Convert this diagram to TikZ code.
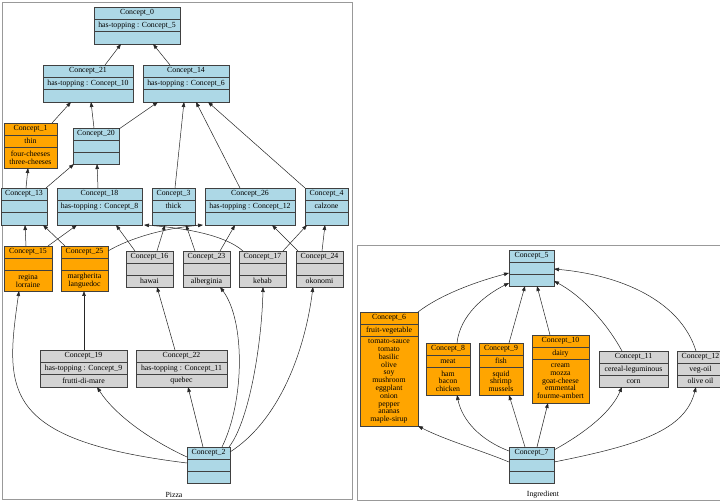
\documentclass[tikz,border=0pt]{standalone}
\usepackage{fontspec}
\setmainfont{Liberation Serif}
\usetikzlibrary{calc,arrows.meta}
\definecolor{lblue}{HTML}{ADD8E6}
\definecolor{corange}{HTML}{FFA500}
\definecolor{lgray}{HTML}{D3D3D3}
\tikzset{
  cbox/.style={rectangle, draw=black!75, line width=0.6pt, anchor=north west, inner sep=0pt, outer sep=0pt},
  cline/.style={draw=black!75, line width=0.6pt},
  ctext/.style={font=\fontsize{7.8}{7.8}\selectfont, inner sep=0pt, text height=5.3pt, text depth=1.7pt},
  btext/.style={font=\fontsize{7.8}{7.8}\selectfont, inner sep=0pt, align=center},
  arr/.style={draw=black!85, line width=0.5pt, -{Triangle[length=5pt,width=3.6pt]}},
  cluster/.style={draw=black!40, line width=0.8pt},
  clabel/.style={font=\fontsize{7.8}{7.8}\selectfont, inner sep=0pt}
}
\newcommand{\conceptbox}[9]{%
  \node[cbox, fill=#2, minimum width=#5pt, minimum height=#6pt] (#1) at (#3,-#4) {};
  \draw[cline] ([yshift=-12.3pt]#1.north west) -- ([yshift=-12.3pt]#1.north east);
  \draw[cline] ([yshift=-24.6pt]#1.north west) -- ([yshift=-24.6pt]#1.north east);
  \node[ctext] (#1t) at ([yshift=-6.15pt]#1.north) {#7};
  \node[ctext] (#1m) at ([yshift=-18.45pt]#1.north) {#8};
  \node[btext] (#1b) at ($(#1.south)!0.5!([yshift=-24.6pt]#1.north)$) {#9};
}
\begin{document}
\begin{tikzpicture}[x=1pt,y=1pt]
\useasboundingbox[fill=white] (0,0) rectangle (720,-502);
% clusters
\draw[cluster] (2,-2) rectangle (352,-499);
\node[clabel] (pizzalabel) at (174,-495) {Pizza};
\draw[cluster] (357,-245) rectangle (723,-500);
\node[clabel] (ingrlabel) at (543,-495) {Ingredient};

% Pizza nodes
\conceptbox{c0}{lblue}{94}{7}{86}{37}{Concept\_0}{has-topping : Concept\_5}{}
\conceptbox{c21}{lblue}{43}{65}{90}{37}{Concept\_21}{has-topping : Concept\_10}{}
\conceptbox{c14}{lblue}{143}{65}{86}{37}{Concept\_14}{has-topping : Concept\_6}{}
\conceptbox{c1}{corange}{4}{123}{53}{45}{Concept\_1}{thin}{four-cheeses\\three-cheeses}
\conceptbox{c20}{lblue}{73}{128}{46}{36}{Concept\_20}{}{}
\conceptbox{c13}{lblue}{1}{188}{46}{37}{Concept\_13}{}{}
\conceptbox{c18}{lblue}{57}{188}{85}{37}{Concept\_18}{has-topping : Concept\_8}{}
\conceptbox{c3}{lblue}{152}{188}{43}{37}{Concept\_3}{thick}{}
\conceptbox{c26}{lblue}{205}{188}{90}{37}{Concept\_26}{has-topping : Concept\_12}{}
\conceptbox{c4}{lblue}{305}{188}{43}{37}{Concept\_4}{calzone}{}
\conceptbox{c15}{corange}{4}{246}{48}{45}{Concept\_15}{}{regina\\lorraine}
\conceptbox{c25}{corange}{61}{246}{47}{45}{Concept\_25}{}{margherita\\languedoc}
\conceptbox{c16}{lgray}{126}{251}{47}{36}{Concept\_16}{}{hawai}
\conceptbox{c23}{lgray}{183}{251}{47}{36}{Concept\_23}{}{alberginia}
\conceptbox{c17}{lgray}{239}{251}{47}{36}{Concept\_17}{}{kebab}
\conceptbox{c24}{lgray}{296}{251}{47}{36}{Concept\_24}{}{okonomi}
\conceptbox{c19}{lgray}{40}{350}{87}{37}{Concept\_19}{has-topping : Concept\_9}{frutti-di-mare}
\conceptbox{c22}{lgray}{136}{350}{91}{37}{Concept\_22}{has-topping : Concept\_11}{quebec}
\conceptbox{c2}{lblue}{187}{447}{43}{36}{Concept\_2}{}{}

% Ingredient nodes
\conceptbox{c5}{lblue}{509}{250}{45}{36}{Concept\_5}{}{}
\conceptbox{c6}{corange}{360}{312}{58}{114}{Concept\_6}{fruit-vegetable}{tomato-sauce\\tomato\\basilic\\olive\\soy\\mushroom\\eggplant\\onion\\pepper\\ananas\\maple-sirup}
\conceptbox{c8}{corange}{426}{343}{44}{52}{Concept\_8}{meat}{ham\\bacon\\chicken}
\conceptbox{c9}{corange}{479}{343}{44}{52}{Concept\_9}{fish}{squid\\shrimp\\mussels}
\conceptbox{c10}{corange}{532}{335}{57}{68}{Concept\_10}{dairy}{cream\\mozza\\goat-cheese\\emmental\\fourme-ambert}
\conceptbox{c11}{lgray}{599}{351}{69}{36}{Concept\_11}{cereal-leguminous}{corn}
\conceptbox{c12}{lgray}{677}{351}{47}{36}{Concept\_12}{veg-oil}{olive oil}
\conceptbox{c7}{lblue}{509}{447}{45}{36}{Concept\_7}{}{}

% Pizza edges (top)
\draw[arr] ([xshift=62pt]c21.north west) -- ([xshift=27pt]c0.south west);
\draw[arr] ([xshift=27pt]c14.north west) -- ([xshift=59pt]c0.south west);
\draw[arr] ([xshift=48pt]c1.north west) -- ([xshift=28pt]c21.south west);
\draw[arr] ([xshift=21pt]c20.north west) -- ([xshift=48pt]c21.south west);
\draw[arr] ([yshift=-1pt]c20.north east) -- ([xshift=15pt]c14.south west);
\draw[arr] ([xshift=23pt]c3.north west) -- ([xshift=41pt]c14.south west);
\draw[arr] ([xshift=35pt]c26.north west) -- ([xshift=53pt]c14.south west);
\draw[arr] (c4.north west) -- ([xshift=65pt]c14.south west);
\draw[arr] ([xshift=25pt]c13.north west) -- ([xshift=24pt]c1.south west);
\draw[arr] ([xshift=45pt]c13.north west) -- ([xshift=1pt]c20.south west);
\draw[arr] ([xshift=41pt]c18.north west) -- ([xshift=24pt]c20.south west);
% middle
\draw[arr] ([xshift=22pt]c15.north west) -- ([xshift=24pt]c13.south west);
\draw[arr] ([xshift=44pt]c15.north west) -- ([xshift=20pt]c18.south west);
\draw[arr] ([xshift=4pt]c25.north west) -- ([xshift=42pt]c13.south west);
\draw[arr] ([yshift=-5pt]c25.north east) .. controls (130,-238) and (165,-228) .. ([xshift=-2pt]c26.south west);
\draw[arr] ([xshift=9pt]c16.north west) -- ([xshift=59pt]c18.south west);
\draw[arr] ([xshift=31pt]c16.north west) -- ([xshift=13pt]c3.south west);
\draw[arr] ([xshift=12pt]c23.north west) -- ([xshift=34pt]c3.south west);
\draw[arr] ([xshift=37pt]c23.north west) -- ([xshift=30pt]c26.south west);
\draw[arr] ([xshift=4pt]c17.north west) .. controls (225,-235) and (185,-228) .. ([xshift=2pt]c18.south east);
\draw[arr] ([xshift=44pt]c17.north west) -- ([xshift=2pt]c4.south west);
\draw[arr] ([xshift=2pt]c24.north west) -- ([xshift=67pt]c26.south west);
\draw[arr] ([xshift=26pt]c24.north west) -- ([xshift=20pt]c4.south west);
% bottom
\draw[arr] ([xshift=44pt]c19.north west) -- ([xshift=23pt]c25.south west);
\draw[arr] ([xshift=39pt]c22.north west) -- ([xshift=31pt]c16.south west);
\draw[arr] ([yshift=-16pt]c2.north west) .. controls (0,-440) and (5,-390) .. ([xshift=15pt]c15.south west);
\draw[arr] ([yshift=-10pt]c2.north west) .. controls (150,-440) and (115,-415) .. ([xshift=57pt]c19.south west);
\draw[arr] ([xshift=16pt]c2.north west) -- ([xshift=52pt]c22.south west);
\draw[arr] ([xshift=35pt]c2.north west) .. controls (245,-400) and (245,-320) .. ([xshift=37pt]c23.south west);
\draw[arr] ([xshift=42pt]c2.north west) .. controls (250,-420) and (262,-340) .. ([xshift=24pt]c17.south west);
\draw[arr] ([yshift=-5pt]c2.north east) .. controls (280,-420) and (305,-350) .. ([xshift=17pt]c24.south west);

% Ingredient edges
\draw[arr] (c6.north east) .. controls (440,-295) and (475,-282) .. ([yshift=-23pt]c5.north west);
\draw[arr] ([xshift=31pt]c8.north west) .. controls (460,-315) and (485,-295) .. ([yshift=-33pt]c5.north west);
\draw[arr] ([xshift=30pt]c9.north west) -- ([xshift=16pt]c5.south west);
\draw[arr] ([xshift=18pt]c10.north west) -- ([xshift=28pt]c5.south west);
\draw[arr] ([xshift=23pt]c11.north west) .. controls (605,-320) and (580,-295) .. ([yshift=-31pt]c5.north east);
\draw[arr] ([xshift=19pt]c12.north west) .. controls (680,-300) and (620,-275) .. ([yshift=-19pt]c5.north east);
\draw[arr] ([yshift=-15pt]c7.north west) .. controls (480,-450) and (445,-440) .. (c6.south east);
\draw[arr] ([yshift=-4pt]c7.north west) .. controls (480,-440) and (462,-420) .. ([xshift=31pt]c8.south west);
\draw[arr] ([xshift=16pt]c7.north west) -- ([xshift=30pt]c9.south west);
\draw[arr] ([xshift=28pt]c7.north west) -- ([xshift=16pt]c10.south west);
\draw[arr] ([yshift=-3pt]c7.north east) .. controls (590,-430) and (612,-410) .. ([xshift=23pt]c11.south west);
\draw[arr] ([yshift=-15pt]c7.north east) .. controls (640,-445) and (685,-430) .. ([xshift=19pt]c12.south west);
\end{tikzpicture}
\end{document}
